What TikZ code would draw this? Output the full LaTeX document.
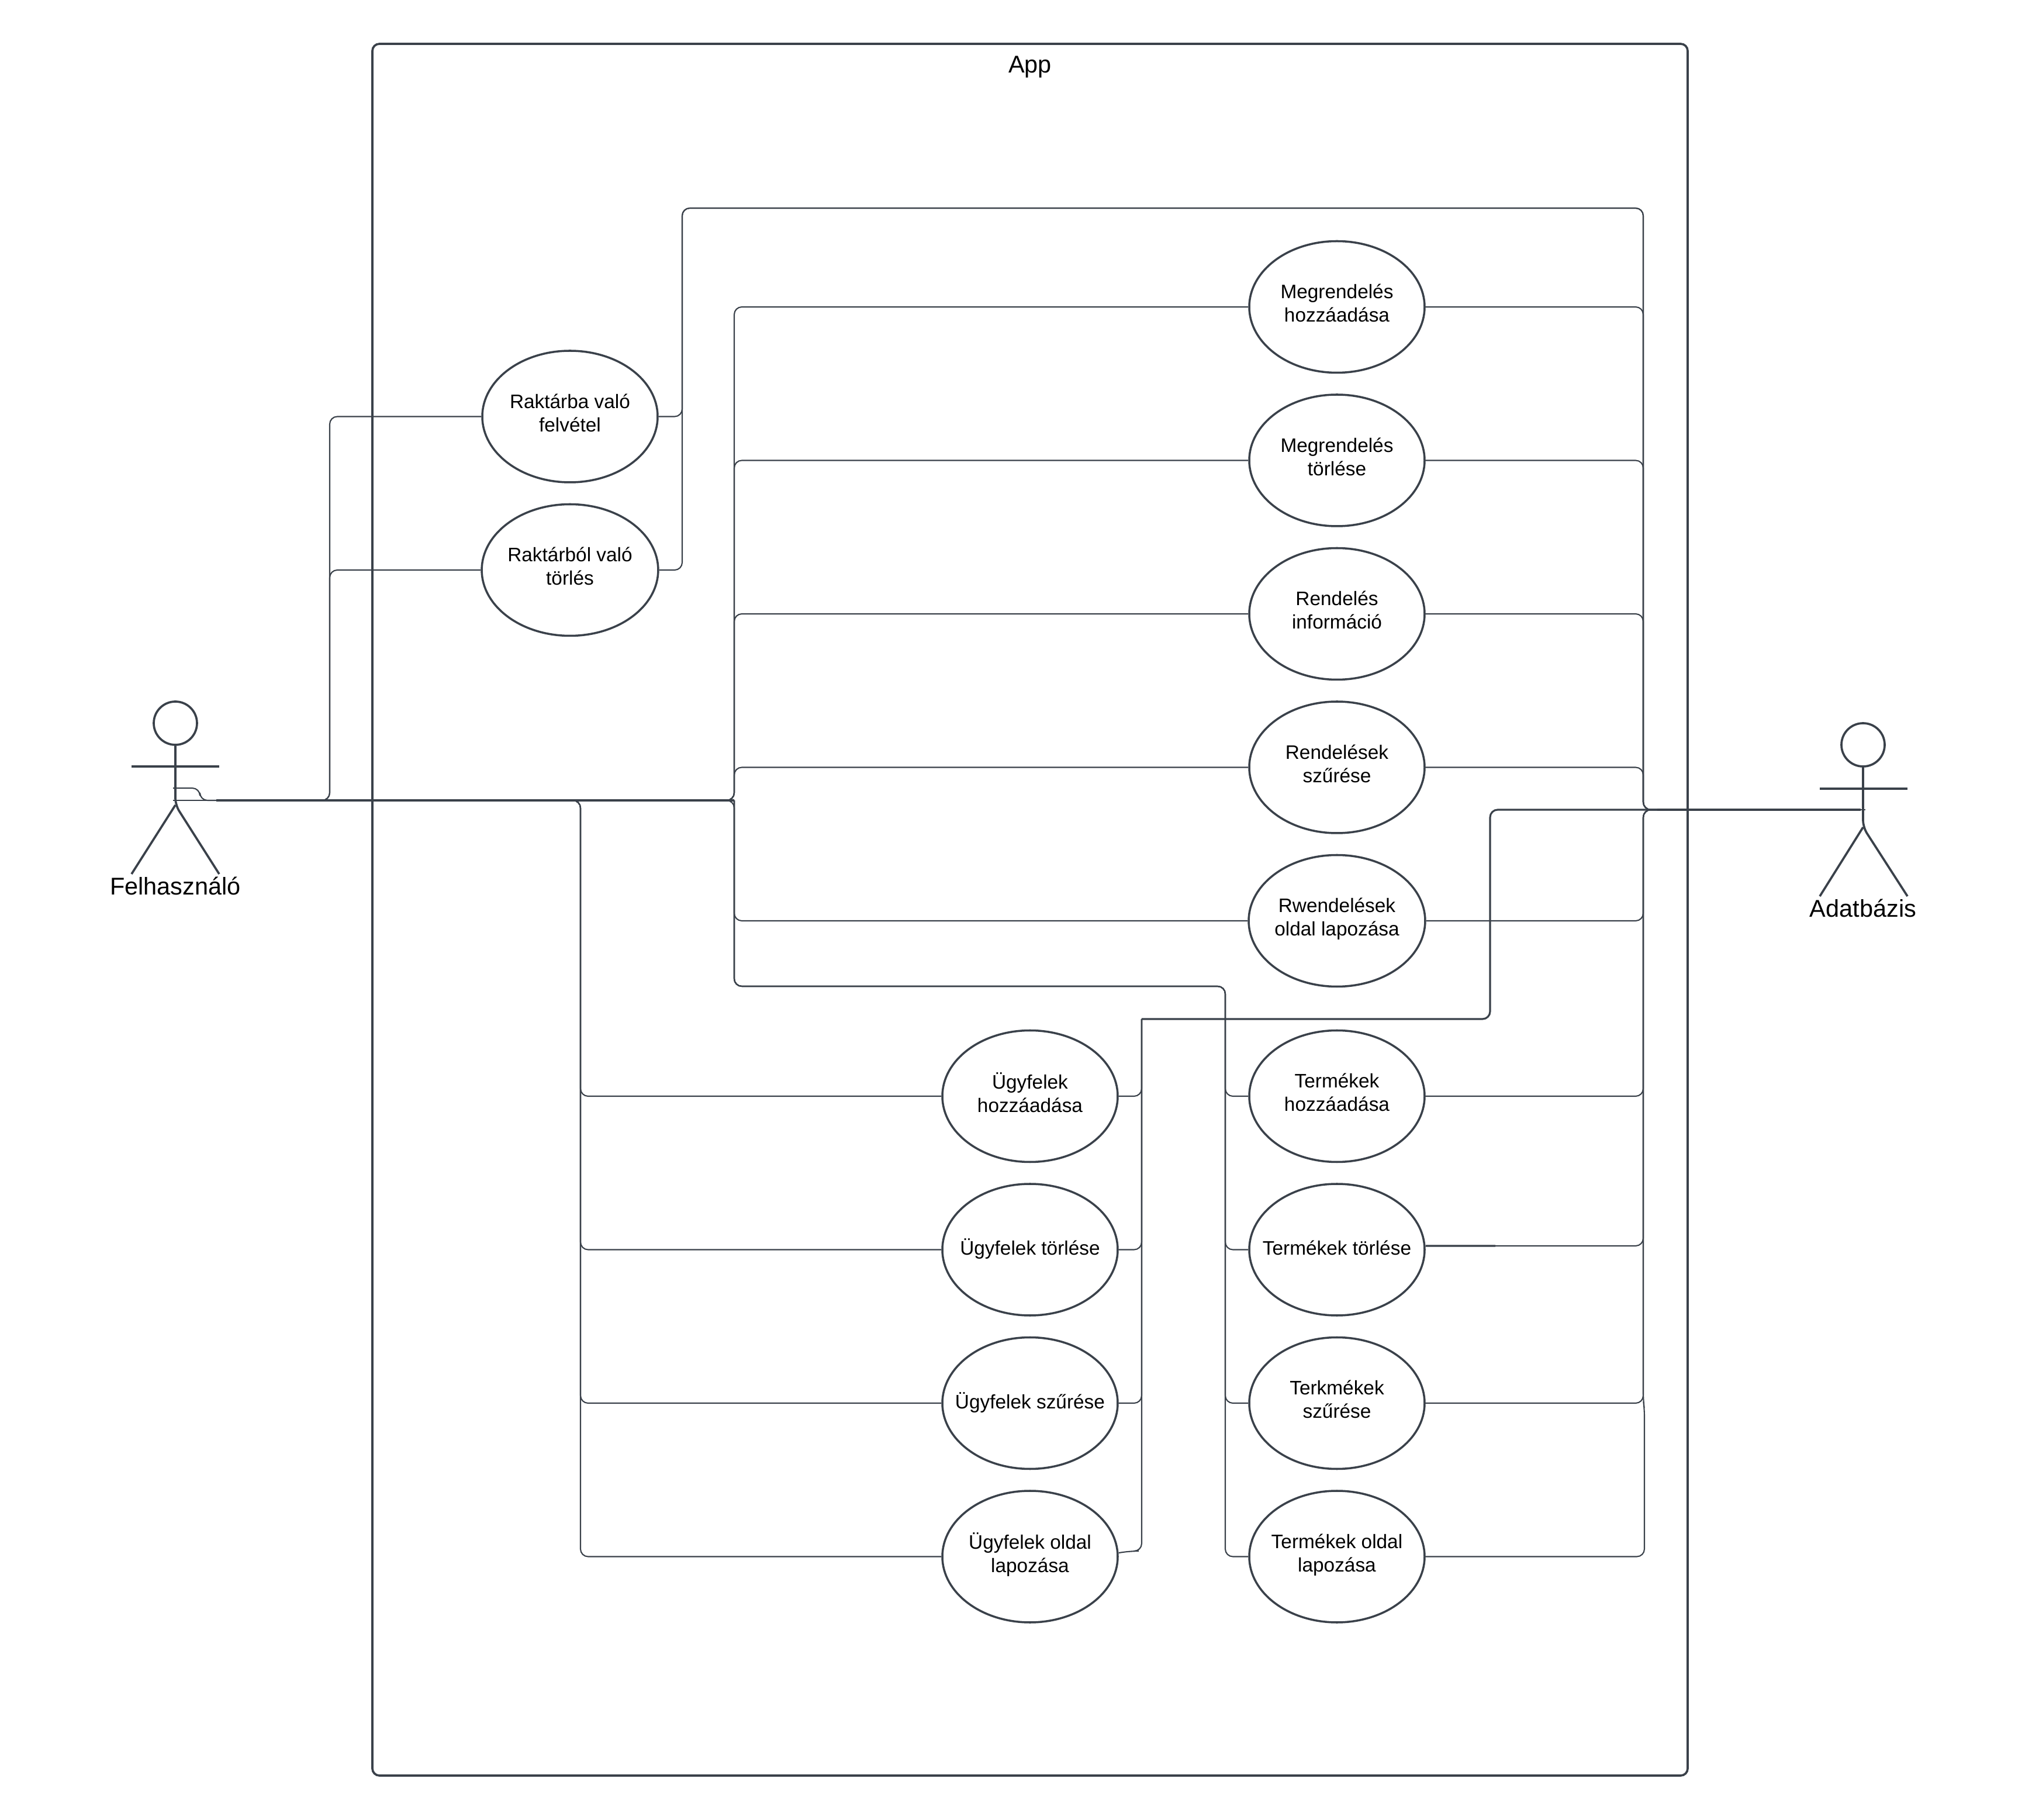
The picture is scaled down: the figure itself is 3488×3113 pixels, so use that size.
\documentclass[tikz,border=0pt]{standalone}
\usepackage{fontspec}
\setmainfont{Liberation Sans}
\usetikzlibrary{shapes.geometric}
\definecolor{cll}{HTML}{3A414A}
\newcommand{\wide}[1]{\makebox[0pt]{#1}}
\tikzset{
    uc/.style={draw=cll, line width=1pt, ellipse, minimum width=3cm, minimum height=2.25cm, inner sep=0pt, align=center, font=\fontsize{9.5}{11.4}\selectfont,
        execute at begin node={\rule{0pt}{9pt}}, execute at end node={\rule[-3.8pt]{0pt}{3.8pt}}},
    who/.style={font=\fontsize{11.8}{14}\selectfont},
    stick/.style={draw=cll, line width=1.05pt},
    link/.style={draw=cll, line width=.6pt, rounded corners=.13cm},
    trunk/.style={draw=cll, line width=.9pt, rounded corners=.13cm}
}

\begin{document}
\begin{tikzpicture}[x=.1mm, y=-.1mm]
    \useasboundingbox(0, 0) rectangle (3488, 3113);
    \node[draw=cll, line width=1.05pt, rounded corners=.12cm, minimum width=22.5cm, minimum height=29.62cm, inner sep=0pt](appbox) at (1762, 1556){};
    \node[who](apptitle) at (1762, 115){App};

    \node[uc](rakbe) at (975, 712.5){Raktárba való\\felvétel};
    \node[uc](rakki) at (975, 975){Raktárból való\\törlés};

    \node[uc](megh) at (2287, 525){Megrendelés\\hozzáadása};
    \node[uc](megt) at (2287, 787.5){Megrendelés\\törlése};
    \node[uc](reni) at (2287, 1050){Rendelés\\információ};
    \node[uc](rensz) at (2287, 1312.5){Rendelések\\szűrése};
    \node[uc](renl) at (2287, 1575){Rwendelések\\oldal lapozása};

    \node[uc](ugyh) at (1762, 1875){Ügyfelek\\hozzáadása};
    \node[uc](ugyt) at (1762, 2137.5){\wide{Ügyfelek törlése}};
    \node[uc](ugysz) at (1762, 2400){\wide{Ügyfelek szűrése}};
    \node[uc](ugyl) at (1762, 2662.5){Ügyfelek oldal\\lapozása};

    \node[uc](terh) at (2287, 1875){Termékek\\hozzáadása};
    \node[uc](tert) at (2287, 2137.5){\wide{Termékek törlése}};
    \node[uc](tersz) at (2287, 2400){Terkmékek\\szűrése};
    \node[uc](terl) at (2287, 2662.5){\wide{Termékek oldal}\\lapozása};

    % the two actors
    \draw[stick](300, 1237) circle[radius=.37cm];
    \draw[stick, rounded corners=.12cm](300, 1274)--(300, 1377)--(375, 1495);
    \draw[stick](225, 1311)--(375, 1311);
    \draw[stick](300, 1377)--(225, 1495);
    \node[who](felh) at (300, 1515){Felhasználó};

    \draw[stick](3187, 1274) circle[radius=.37cm];
    \draw[stick, rounded corners=.12cm](3187, 1311)--(3187, 1415)--(3263, 1533);
    \draw[stick](3113, 1349)--(3263, 1349);
    \draw[stick](3187, 1415)--(3113, 1533);
    \node[who](adat) at (3187, 1553){Adatbázis};

    \coordinate(fel) at (296, 1369);
    \coordinate(fa) at (370, 1369);
    \coordinate(ada) at (3191, 1385);
    \coordinate(ae) at (3183, 1385);
    \coordinate(sk) at (564, 1369);
    \coordinate(sl) at (993, 1369);
    \coordinate(sm) at (1256, 1369);
    \coordinate(mb) at (2096, 1687);
    \coordinate(rtop) at (1167, 356);
    \coordinate(rt) at (2811, 1385);
    \coordinate(rr) at (2835, 1385);
    \coordinate(ub) at (1953, 1743);
    \coordinate(ua) at (2549, 1385);

    % from the left actor
    \draw[link](fel)--(375, 1369);
    \draw[link](296, 1348)--(342, 1348)--(342, 1369)--(375, 1369);
    \draw[trunk](fa)--(sm);
    \draw[link](fa)--(sk)|-(rakbe.west);
    \draw[link](fa)--(sk)|-(rakki.west);
    \draw[link](fa)--(sm)|-(megh.west);
    \draw[link](fa)--(sm)|-(megt.west);
    \draw[link](fa)--(sm)|-(reni.west);
    \draw[link](fa)--(sm)|-(rensz.west);
    \draw[link](fa)--(sm)|-(renl.west);
    \draw[link](fa)--(sl)|-(ugyh.west);
    \draw[link](fa)--(sl)|-(ugyt.west);
    \draw[link](fa)--(sl)|-(ugysz.west);
    \draw[link](fa)--(sl)|-(ugyl.west);
    \draw[link](sm)|-(mb)|-(terh.west);
    \draw[link](sm)|-(mb)|-(tert.west);
    \draw[link](sm)|-(mb)|-(tersz.west);
    \draw[link](sm)|-(mb)|-(terl.west);

    % to the right actor
    \draw[trunk](rr)--(ae);
    \draw[link](ae)--(ada);
    \draw[link](rakbe.east)-|(rtop)-|(rt)--(rr);
    \draw[link](rakki.east)-|(rtop)-|(rt)--(rr);
    \draw[link](megh.east)-|(rt)--(rr);
    \draw[link](megt.east)-|(rt)--(rr);
    \draw[link](reni.east)-|(rt)--(rr);
    \draw[link](rensz.east)-|(rt)--(rr);
    \draw[link](renl.east)-|(rt)--(rr);
    \draw[link](terh.east)-|(rt)--(rr);
    \draw[trunk]([yshift=.065cm]tert.east)--(2558, 2131);
    \draw[link]([yshift=.065cm]tert.east)-|(rt)--(rr);
    \draw[link](tersz.east)-|(rt)--(rr);
    \draw[link](terl.east)-|(2813, 2410)--(2811, 2395)--(rt)--(rr);
    \draw[trunk](ub)-|(ua)--(rr);
    \draw[link](ugyh.east)-|(ub);
    \draw[link](ugyt.east)-|(ub);
    \draw[link](ugysz.east)-|(ub);
    \draw[link]([yshift=.065cm]ugyl.east)--(1935, 2653)-|(ub);
\end{tikzpicture}
\end{document}
